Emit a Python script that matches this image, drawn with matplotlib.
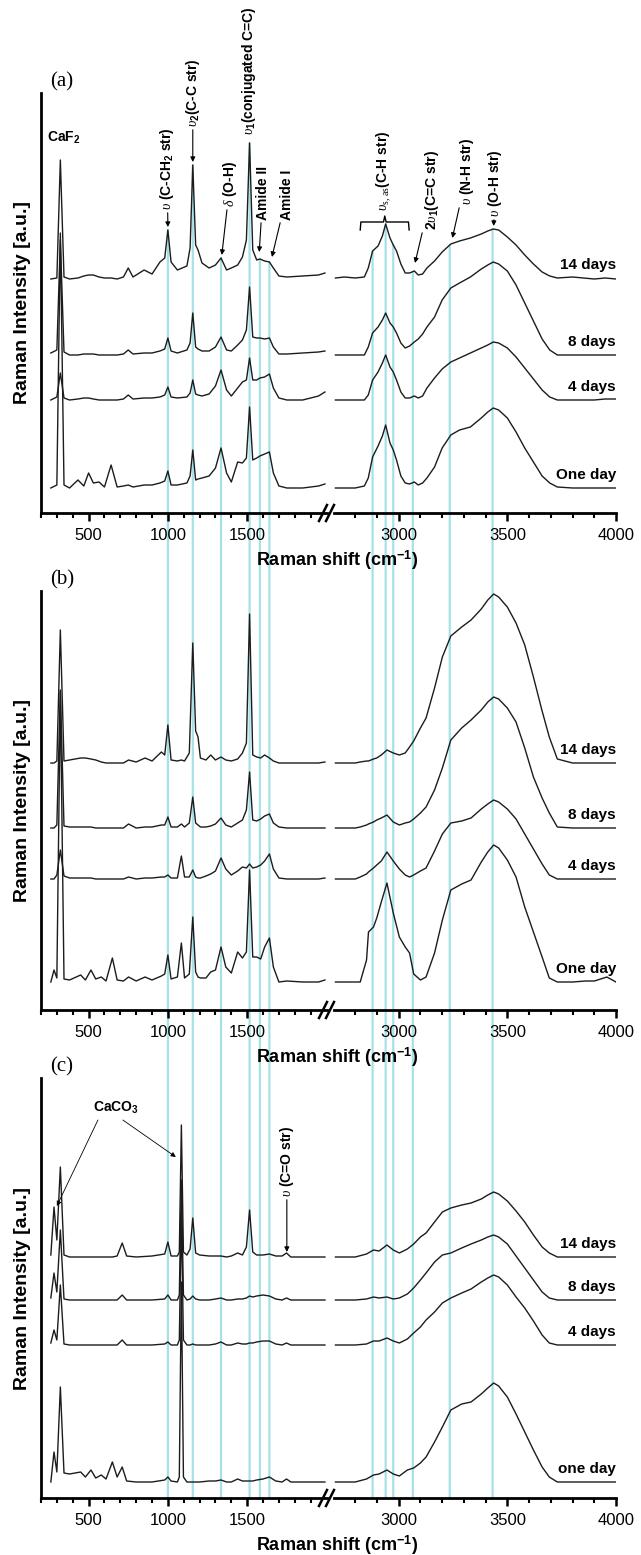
import numpy as np
import matplotlib
matplotlib.use("Agg")
import matplotlib.pyplot as plt
from matplotlib.patches import ConnectionPatch
from matplotlib.lines import Line2D
from matplotlib.ticker import FixedLocator

plt.rcParams["font.family"] = ["Liberation Sans", "DejaVu Sans"]
plt.rcParams["mathtext.fontset"] = "custom"
plt.rcParams["mathtext.rm"] = "Liberation Serif"
plt.rcParams["mathtext.it"] = "Liberation Serif:italic"
plt.rcParams["mathtext.bf"] = "Liberation Sans:bold"

# ---- panel (a): Raman shift grids (cm-1) and spectra above their own baseline ----
A_LX = [262, 300, 322, 345, 380, 433, 470, 500, 530, 566, 600, 642, 680, 720, 750,
        780, 850, 900, 950, 980, 1000, 1020, 1060, 1120, 1140, 1157, 1175, 1190, 1215, 1260,
        1300, 1335, 1370, 1400, 1440, 1470, 1495, 1515, 1535, 1560, 1580, 1610, 1640, 1665, 1700,
        1750, 1850, 1950, 1990]
A_L_14 = [-1, 0, 118, 1, -1, 0, 2, 3, 3, 1, 0, 0, -1, 1, 10, 1, 8, 4, 16, 20, 48, 16, 8, 12, 30,
          113, 33, 28, 15, 10, 13, 20, 8, 10, 13, 21, 38, 135, 28, 18, 19, 17, 16, 10, 2, 1, 2, 3, 5]
A_L_8 = [2, 5, 115, 3, 0, 0, 1, 1, 1, 0, 0, 0, 0, 1, 5, 1, 2, 2, 4, 6, 17, 4, 2, 5, 12,
         42, 8, 6, 4, 4, 8, 18, 5, 4, 10, 15, 25, 68, 18, 17, 17, 16, 17, 8, 1, 1, 2, 3, 4]
A_L_4 = [0, 3, 27, 2, 0, 1, 2, 2, 1, 0, 0, 0, 0, 1, 5, 1, 2, 2, 3, 5, 13, 3, 2, 3, 7,
         20, 6, 5, 4, 6, 14, 30, 10, 4, 12, 18, 20, 42, 20, 20, 22, 23, 26, 12, 2, 0, 0, 4, 8]
A_L_1 = [0, 3, 255, 3, 0, 8, 2, 15, 5, 6, 1, 23, 1, 2, 3, 1, 3, 3, 5, 7, 17, 3, 3, 5, 12,
         38, 8, 9, 10, 12, 20, 40, 15, 6, 26, 25, 30, 81, 28, 30, 32, 34, 36, 15, 2, 0, 0, 2, 4]

A_RX = [2709, 2750, 2800, 2842, 2860, 2880, 2905, 2925, 2940, 2960, 2975, 2990, 3010, 3030, 3050,
        3072, 3090, 3110, 3130, 3165, 3200, 3240, 3280, 3330, 3380, 3410, 3435, 3460, 3500, 3540,
        3580, 3620, 3660, 3695, 3730, 3800, 3850, 3900, 3950, 4000]
A_R_14 = [0, 1, 0, 1, 10, 27, 32, 42, 54, 40, 33, 27, 14, 5, 5, 7, 3, 4, 10, 17,
          26, 34, 37, 40, 44, 47, 49, 48, 41, 33, 23, 14, 6, 2, 0, 1, 0, -1, 0, -1]
A_R_8 = [0, 0, 0, 0, 8, 22, 28, 35, 42, 32, 28, 22, 12, 7, 9, 13, 16, 21, 28, 38,
         55, 67, 72, 78, 86, 90, 93, 91, 84, 70, 52, 34, 16, 5, 0, 0, 0, 0, 0, 0]
A_R_4 = [0, 0, 0, 0, 5, 20, 28, 37, 45, 33, 28, 20, 8, 2, 2, 4, 2, 4, 12, 22,
         31, 38, 42, 47, 52, 55, 58, 57, 52, 43, 32, 21, 10, 3, 0, 0, 0, 0, 1, 1]
A_R_1 = [0, 0, 0, 2, 10, 31, 42, 52, 63, 45, 38, 28, 12, 5, 4, 6, 3, 5, 10, 21,
         40, 53, 58, 61, 70, 76, 80, 78, 70, 56, 40, 26, 12, 5, 1, 0, 0, 0, 0, 0]
A_OFFSETS = [235, 158, 113, 25]
A_LABELS = ["14 days", "8 days", "4 days", "One day"]

# ---- panel (b) ----
B_LX = [262, 282, 300, 322, 345, 380, 450, 480, 515, 545, 580, 610, 650, 680, 720,
        752, 800, 856, 900, 959, 980, 1000, 1020, 1060, 1085, 1105, 1135, 1157, 1175, 1190,
        1205, 1240, 1270, 1300, 1335, 1365, 1400, 1440, 1470, 1495, 1515, 1535, 1560, 1585, 1610,
        1640, 1665, 1700, 1750, 1850, 1950, 1990]
B_L_14 = [0, 0, 2, 133, 2, 3, 5, 5, 4, 3, 1, 0, 0, 0, 0, 3, 1, 5, 2, 11, 8, 38, 3, 2, 3, 2, 10,
          120, 32, 26, 5, 3, 8, 3, 6, 3, 2, 4, 10, 20, 149, 8, 6, 5, 8, 5, 2, 0, 0, 0, 0, 1]
B_L_8 = [0, 0, 3, 138, 2, 1, 1, 1, 1, 0, 0, 0, 0, 0, 0, 4, 0, 1, 1, 3, 3, 11, 1, 1, 4, 1, 5,
         31, 5, 3, 1, 1, 2, 4, 10, 3, 1, 5, 8, 18, 56, 8, 7, 9, 12, 14, 5, 1, 0, 0, 0, 0]
B_L_4 = [0, 0, 4, 29, 3, 1, 1, 1, 1, 0, 0, 0, 0, 0, 0, 2, 0, 1, 1, 2, 2, 4, 1, 1, 23, 2, 2,
         9, 2, 1, 1, 3, 5, 8, 21, 10, 4, 8, 12, 11, 15, 11, 12, 14, 18, 25, 10, 1, 0, 0, 0, 1]
B_L_1 = [0, 12, 4, 290, 3, 2, 7, 2, 12, 3, 5, 1, 24, 2, 1, 5, 1, 5, 2, 6, 8, 27, 3, 5, 39, 4, 8,
         65, 10, 5, 4, 4, 10, 12, 35, 15, 9, 30, 24, 30, 112, 25, 25, 23, 35, 44, 15, 0, 1, 0, 0, 2]

B_RX = [2709, 2750, 2800, 2823, 2852, 2861, 2884, 2899, 2920, 2946, 2975, 3003, 3030, 3050, 3069,
        3100, 3126, 3165, 3201, 3240, 3290, 3333, 3380, 3410, 3437, 3460, 3500, 3540, 3580, 3620,
        3660, 3693, 3730, 3800, 3860, 3901, 3958, 4000]
B_R_14 = [0, 0, 0, 1, 2, 2, 4, 5, 8, 13, 10, 8, 10, 16, 22, 35, 45, 75, 106, 127,
          136, 143, 154, 163, 169, 166, 156, 140, 118, 86, 52, 26, 4, 0, 0, 0, 0, 0]
B_R_8 = [0, 0, 0, 1, 3, 4, 6, 8, 10, 13, 6, 3, 5, 6, 9, 15, 21, 38, 60, 88,
         100, 108, 118, 126, 131, 129, 120, 106, 80, 51, 30, 15, 1, 0, 0, 0, 0, 0]
B_R_4 = [0, 0, 0, 2, 5, 7, 11, 14, 18, 27, 18, 10, 4, 2, 4, 8, 11, 28, 45, 56,
         58, 61, 70, 75, 79, 77, 70, 60, 45, 30, 15, 4, 0, 0, 0, 0, 0, 0]
B_R_1 = [0, 0, 0, 0, 22, 50, 55, 64, 80, 99, 69, 45, 35, 29, 8, 2, 5, 29, 62, 92,
         98, 102, 120, 130, 137, 134, 122, 105, 75, 50, 25, 4, 0, 0, 1, 1, 5, 0]
B_OFFSETS = [247, 182, 131, 28]
B_LABELS = ["14 days", "8 days", "4 days", "One day"]

# ---- panel (c) ----
C_LX = [262, 282, 300, 322, 345, 380, 450, 480, 515, 545, 580, 610, 650, 680, 712,
        740, 800, 900, 980, 1000, 1020, 1060, 1072, 1085, 1098, 1120, 1140, 1157, 1175, 1200,
        1260, 1300, 1335, 1370, 1400, 1440, 1470, 1495, 1515, 1535, 1560, 1600, 1640, 1680, 1720,
        1748, 1775, 1850, 1990]
C_L_14 = [2, 50, 17, 90, 2, 0, 0, 0, 0, 0, 0, 0, 0, 1, 14, 1, 0, 1, 3, 15, 1, 1, 5, 132, 5,
          2, 8, 39, 4, 2, 1, 1, 1, 0, 1, 4, 2, 10, 47, 5, 2, 2, 3, 1, 1, 4, 0, 0, 0]
C_L_8 = [2, 27, 8, 70, 1, 0, 0, 0, 0, 0, 0, 0, 0, 0, 5, 0, 0, 0, 1, 5, 0, 0, 5, 120, 5,
         0, 1, 4, 1, 0, 0, 1, 2, 0, 0, 1, 1, 2, 4, 3, 4, 5, 4, 1, 0, 2, 0, 0, 0]
C_L_4 = [2, 15, 5, 60, 1, 0, 0, 0, 0, 0, 0, 0, 0, 0, 5, 0, 0, 0, 1, 3, 0, 0, 5, 130, 5,
         0, 0, 1, 0, 0, 0, 1, 3, 0, 0, 2, 1, 1, 2, 2, 3, 4, 4, 1, 0, 2, 0, 0, 0]
C_L_1 = [0, 30, 10, 95, 9, 8, 10, 5, 12, 4, 7, 3, 20, 5, 15, 1, 0, 0, 2, 5, 1, 0, 5, 200, 5,
         0, 0, 0, 0, 0, 1, 1, 2, 0, 0, 3, 1, 1, 1, 1, 2, 3, 5, 1, 0, 3, 0, 0, 0]

C_RX = [2709, 2750, 2800, 2852, 2884, 2910, 2946, 2975, 3003, 3040, 3069, 3100, 3126, 3165, 3201,
        3240, 3290, 3333, 3380, 3410, 3437, 3460, 3500, 3540, 3580, 3620, 3660, 3693, 3730, 3800,
        3900, 4000]
C_R_14 = [0, 0, 0, 3, 7, 6, 12, 7, 4, 8, 13, 20, 24, 35, 45, 49, 52, 54, 58, 62,
          65, 63, 56, 46, 35, 22, 10, 4, 0, 0, 0, 0]
C_R_8 = [0, 0, 0, 1, 3, 2, 3, 1, 2, 6, 12, 20, 27, 38, 45, 47, 52, 56, 60, 63,
         65, 63, 56, 44, 32, 20, 8, 2, 0, 0, 0, 0]
C_R_4 = [0, 0, 0, 1, 4, 4, 7, 4, 2, 6, 12, 18, 25, 33, 42, 47, 52, 56, 63, 67,
         70, 68, 60, 48, 37, 24, 10, 2, 0, 0, 0, 0]
C_R_1 = [0, 0, 0, 3, 7, 8, 12, 8, 6, 12, 14, 19, 25, 40, 55, 72, 78, 80, 88, 94,
         99, 96, 85, 68, 50, 32, 15, 5, 0, 0, 0, 0]
C_OFFSETS = [241, 198, 153, 16]
C_LABELS = ["14 days", "8 days", "4 days", "one day"]

# band positions marked with the cyan guide lines
CYAN_LEFT = [1000, 1157, 1335, 1515, 1580, 1640]
CYAN_RIGHT = [2880, 2940, 2975, 3065, 3235, 3432]

# ---- layout (pixels of the 641 x 1555 picture) ----
W, H = 641, 1555
PANEL_TOP = [93, 591, 1078]
PANEL_BOTTOM = [513, 1010, 1498]
XL_PX = (41, 326.5)
XR_PX = (333.5, 616)
INK = "#1c1c1c"
CYAN = "#a6e1e7"

fig = plt.figure(figsize=(W / 100, H / 100), dpi=100)


def px_axes(x0, x1, top, bottom):
    return fig.add_axes([x0 / W, 1 - bottom / H, (x1 - x0) / W, (bottom - top) / H])


def style(ax, major, minor, keep_left):
    ax.set_facecolor("none")
    ax.spines["top"].set_visible(False)
    ax.spines["right"].set_visible(False)
    ax.spines["left"].set_visible(keep_left)
    ax.spines["left"].set_linewidth(2.0)
    ax.spines["bottom"].set_linewidth(2.0)
    ax.set_yticks([])
    ax.xaxis.set_major_locator(FixedLocator(major))
    ax.xaxis.set_minor_locator(FixedLocator(minor))
    ax.tick_params(axis="x", which="major", direction="out", length=6, width=1.8,
                   labelsize=12, pad=5)
    ax.tick_params(axis="x", which="minor", direction="out", length=3.5, width=1.5)


def note(ax, text, xt, yt, xy=None, size=10):
    if xy is None:
        ax.text(xt, yt, text, rotation=90, ha="center", va="bottom", fontsize=size,
                fontweight="bold", clip_on=False)
    else:
        ax.annotate(text, xy=xy, xytext=(xt, yt), rotation=90, ha="center", va="bottom",
                    fontsize=size, fontweight="bold", annotation_clip=False,
                    arrowprops=dict(arrowstyle="-|>", color="k", lw=0.8,
                                    mutation_scale=7, shrinkA=0, shrinkB=0))


panels = [
    (A_LX, [A_L_14, A_L_8, A_L_4, A_L_1], A_RX, [A_R_14, A_R_8, A_R_4, A_R_1], A_OFFSETS, A_LABELS, "(a)"),
    (B_LX, [B_L_14, B_L_8, B_L_4, B_L_1], B_RX, [B_R_14, B_R_8, B_R_4, B_R_1], B_OFFSETS, B_LABELS, "(b)"),
    (C_LX, [C_L_14, C_L_8, C_L_4, C_L_1], C_RX, [C_R_14, C_R_8, C_R_4, C_R_1], C_OFFSETS, C_LABELS, "(c)"),
]

axes = []
for (lx, lys, rx, rys, offs, labels, tag), top, bottom in zip(panels, PANEL_TOP, PANEL_BOTTOM):
    axl = px_axes(XL_PX[0], XL_PX[1], top, bottom)
    axr = px_axes(XR_PX[0], XR_PX[1], top, bottom)
    height = bottom - top
    axl.set_xlim(200, 2000)
    axr.set_xlim(2700, 4000)
    for ax in (axl, axr):
        ax.set_ylim(0, height)
    style(axl, [500, 1000, 1500], list(range(200, 2000, 100)), True)
    style(axr, [3000, 3500, 4000], list(range(2800, 4000, 100)), False)

    for ly, ry, off, lab in zip(lys, rys, offs, labels):
        axl.plot(lx, np.array(ly) + off, color=INK, lw=1.0, solid_joinstyle="round")
        axr.plot(rx, np.array(ry) + off, color=INK, lw=1.0, solid_joinstyle="round")
        axr.text(4000, off + 13, lab, ha="right", va="center", fontsize=11,
                 fontweight="bold", clip_on=False)

    # broken-axis marks
    for dx in (0, 7):
        fig.add_artist(Line2D([(319 + dx) / W, (327 + dx) / W],
                              [1 - (bottom + 8) / H, 1 - (bottom - 8) / H],
                              transform=fig.transFigure, color="k", lw=1.8))

    fig.text(23 / W, 1 - (top + bottom) / 2 / H, "Raman Intensity [a.u.]", rotation=90,
             ha="center", va="center", fontsize=14, fontweight="bold")
    fig.text(337 / W, 1 - (bottom + 47) / H, r"Raman shift (cm$^{\mathbf{-1}}$)",
             ha="center", va="center", fontsize=13, fontweight="bold")
    fig.text(62 / W, 1 - (top - 11) / H, tag, family=["Liberation Serif"], fontsize=15,
             ha="center", va="center")
    axes.append((axl, axr))

(axla, axra), _, (axlc, axrc) = axes

# cyan guide lines from the top spectrum of (a) down to the axis of (c)
for pos in CYAN_LEFT:
    top_val = np.interp(pos, A_LX, A_L_14) + A_OFFSETS[0]
    fig.add_artist(ConnectionPatch(xyA=(pos, top_val), coordsA=axla.transData,
                                   xyB=(pos, 0), coordsB=axlc.transData,
                                   color=CYAN, lw=1.6, zorder=-1))
for pos in CYAN_RIGHT:
    top_val = np.interp(pos, A_RX, A_R_14) + A_OFFSETS[0]
    fig.add_artist(ConnectionPatch(xyA=(pos, top_val), coordsA=axra.transData,
                                   xyB=(pos, 0), coordsB=axrc.transData,
                                   color=CYAN, lw=1.6, zorder=-1))

# annotations, panel (a)
axla.text(345, 375, r"CaF$_\mathbf{2}$", ha="center", va="center", fontsize=10,
          fontweight="bold")
note(axla, r"$\upsilon$ (C-CH$_\mathbf{2}$ str)", 995, 303, xy=(1000, 286))
note(axla, r"$\upsilon_\mathbf{2}$(C-C str)", 1157, 386, xy=(1157, 351))
note(axla, r"$\delta$ (O-H)", 1391, 306, xy=(1340, 258))
note(axla, r"$\upsilon_\mathbf{1}$(conjugated C=C)", 1511, 378)
note(axla, "Amide II", 1599, 293, xy=(1576, 261))
note(axla, "Amide I", 1750, 293, xy=(1656, 256))

axra.plot([2823, 2826, 2930, 2936, 2942, 3045, 3048], [283, 291, 291, 297, 291, 291, 283],
          color="k", lw=1.0, clip_on=False)
note(axra, r"$\upsilon_{\mathrm{s,\,as}}$(C-H str)", 2933, 302, size=10)
note(axra, r"2$\upsilon_\mathbf{1}$(C=C str)", 3155, 283, xy=(3075, 250))
note(axra, r"$\upsilon$ (N-H str)", 3316, 308, xy=(3247, 275))
note(axra, r"$\upsilon$ (O-H str)", 3445, 296, xy=(3437, 287))

# annotations, panel (c)
axlc.text(672, 390, r"CaCO$_\mathbf{3}$", ha="center", va="center", fontsize=10,
          fontweight="bold")
for start, tip in [((559, 378), (300, 292)), ((716, 378), (1050, 341))]:
    axlc.annotate("", xy=tip, xytext=start, annotation_clip=False,
                  arrowprops=dict(arrowstyle="-|>", color="k", lw=0.6,
                                  mutation_scale=7, shrinkA=0, shrinkB=0))
note(axlc, r"$\upsilon$ (C=O str)", 1750, 301, xy=(1750, 246))

fig.savefig("out.png", dpi=100)
